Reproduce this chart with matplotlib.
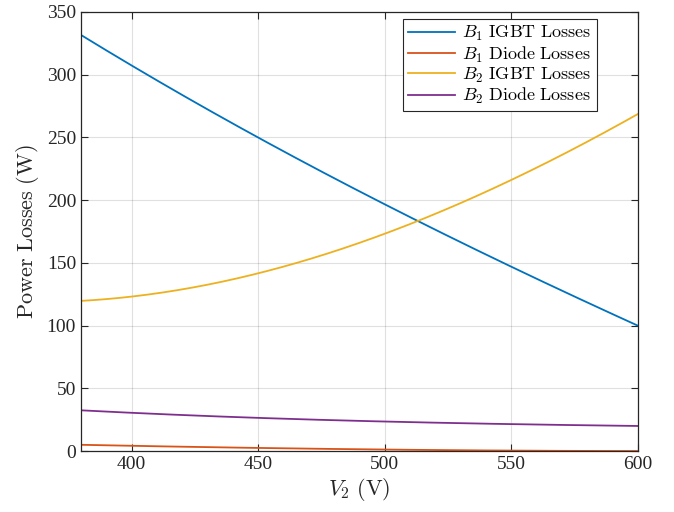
import matplotlib
matplotlib.use("Agg")
import matplotlib.pyplot as plt
import numpy as np

plt.rcParams['mathtext.fontset'] = 'cm'
plt.rcParams['font.family'] = 'Liberation Serif'

v2 = [380, 400, 425, 450, 475, 500, 525, 550, 575, 600]
b1_igbt = [332, 307, 278, 250, 223, 197, 171, 147, 123, 100]
b1_diode = [5.0, 4.2, 3.3, 2.5, 1.8, 1.2, 0.7, 0.4, 0.15, 0.0]
b2_igbt = [120, 123, 130, 142, 156, 174, 193, 216, 241, 269]
b2_diode = [32.5, 30.5, 28.3, 26.5, 24.9, 23.5, 22.4, 21.5, 20.7, 20.0]

labels = [r'$B_1\ \mathrm{IGBT\ Losses}$', r'$B_1\ \mathrm{Diode\ Losses}$',
          r'$B_2\ \mathrm{IGBT\ Losses}$', r'$B_2\ \mathrm{Diode\ Losses}$']
colors = ['#0072BD', '#D95319', '#EDB120', '#7E2F8E']

fig = plt.figure(figsize=(6.74, 5.12), dpi=100)
ax = fig.add_axes([0.120, 0.119, 0.8266, 0.8576])

# smooth curves through the sampled points
xs = np.linspace(380, 600, 300)
for ys, c, lab in zip([b1_igbt, b1_diode, b2_igbt, b2_diode], colors, labels):
    coef = np.polyfit(v2, ys, 3)
    ax.plot(xs, np.polyval(coef, xs), color=c, lw=1.3, label=lab)

ax.set_xlim(380, 600)
ax.set_ylim(0, 350)
ax.set_xticks([400, 450, 500, 550, 600])
ax.set_yticks(range(0, 351, 50))
ax.grid(True, color='#000000', alpha=0.12, lw=0.8)
ax.tick_params(direction='in', top=True, right=True, labelsize=14, colors='#262626', length=5)
for s in ax.spines.values():
    s.set_color('#262626')
    s.set_linewidth(0.9)

ax.set_xlabel(r'$V_2\ \mathrm{(V)}$', fontsize=16, color='#262626', labelpad=2)
ax.set_ylabel(r'$\mathrm{Power\ Losses\ (W)}$', fontsize=16, color='#262626', labelpad=4)

leg = ax.legend(loc='upper right', bbox_to_anchor=(0.926, 0.984), borderaxespad=0,
                fontsize=13, fancybox=False, framealpha=1,
                edgecolor='#262626', handlelength=2.6, labelspacing=0.06,
                handletextpad=0.4, borderpad=0.3)
leg.get_frame().set_linewidth(0.8)

fig.savefig('out.png', dpi=100)
